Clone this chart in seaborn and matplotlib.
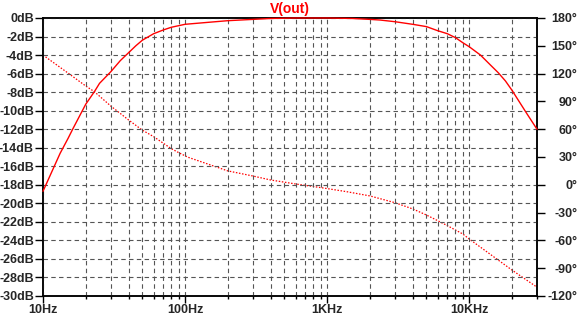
import matplotlib
matplotlib.use("Agg")
import matplotlib.pyplot as plt
import seaborn as sns
import numpy as np
import pandas as pd
from matplotlib.ticker import FixedLocator, NullFormatter

# ---- data ----
mag_freq = [10, 13.2, 15, 16.3, 20, 23, 25, 30, 35, 40, 45, 50, 60, 70, 80, 100,
            150, 200, 300, 400, 600, 1000, 1500, 2000, 2360, 3000, 4000, 5000,
            6000, 7000, 8000, 9000, 10000, 12000, 14100, 16000, 18000, 20000,
            25400, 30000]
mag_db = [-18.7, -14.6, -13.0, -11.9, -9.3, -7.95, -7.05, -5.8, -4.6, -3.75,
          -3.0, -2.4, -1.7, -1.3, -1.0, -0.68, -0.45, -0.29, -0.15, -0.05, 0.0,
          0.0, -0.05, -0.15, -0.22, -0.4, -0.68, -0.93, -1.37, -1.69, -2.12,
          -2.66, -3.1, -4.0, -5.07, -5.9, -6.8, -7.8, -10.3, -12.0]

ph_freq = [10, 15, 20, 23, 30, 40, 50, 60, 80, 92, 105, 200, 300, 400, 600, 910,
           1370, 2000, 3000, 4000, 5000, 6000, 7000, 8000, 9000, 10000, 20000, 30000]
ph_deg = [140, 120.6, 106.6, 100.5, 85, 70, 59, 52, 39, 34, 29.7, 15, 9.5, 5.2,
          0.9, -3.1, -7.4, -12, -19.3, -26, -32.6, -38.7, -44, -48.8, -53, -58.5,
          -92, -110.5]

x_major = [10, 100, 1000, 10000]
x_major_labels = ["10Hz", "100Hz", "1KHz", "10KHz"]
db_ticks = list(range(0, -31, -2))
db_labels = [f"{v}dB" for v in db_ticks]
deg_ticks = list(range(180, -121, -30))
deg_labels = [f"{v}°" for v in deg_ticks]
title = "V(out)"

# ---- style ----
sns.set_theme(style="white")
plt.rcParams["font.family"] = ["Liberation Sans", "DejaVu Sans"]
plt.rcParams["font.weight"] = "bold"
plt.rcParams["font.size"] = 9
plt.rcParams["axes.unicode_minus"] = False

W, H = 579, 317
fig = plt.figure(figsize=(W / 100, H / 100), dpi=100)
L, R, T, B = 43, 537, 18, 296
ax = fig.add_axes([L / W, 1 - B / H, (R - L) / W, (B - T) / H])
ax2 = ax.twinx()

mag_df = pd.DataFrame({"f": mag_freq, "db": mag_db})
ph_df = pd.DataFrame({"f": ph_freq, "deg": ph_deg})

sns.lineplot(data=mag_df, x="f", y="db", ax=ax, color="#ff0000", lw=1.0,
             estimator=None, sort=False, clip_on=False, zorder=5)
sns.lineplot(data=ph_df, x="f", y="deg", ax=ax2, color="#ff0000", lw=0.9,
             estimator=None, sort=False, linestyle=(0, (1.2, 1.3)), zorder=5)

ax.set_xscale("log")
ax.set_xlim(10, 30000)
ax.set_ylim(-30, 0)
ax2.set_ylim(-120, 180)

minor = [m * d for d in [10, 100, 1000, 10000] for m in range(2, 10) if m * d <= 30000]
ax.xaxis.set_major_locator(FixedLocator(x_major))
ax.set_xticklabels(x_major_labels)
ax.xaxis.set_minor_locator(FixedLocator(minor))
ax.xaxis.set_minor_formatter(NullFormatter())
ax.set_yticks(db_ticks)
ax.set_yticklabels(db_labels)
ax2.set_yticks(deg_ticks)
ax2.set_yticklabels(deg_labels)

grid_kw = dict(color="#555555", linestyle=(0, (4, 3)), linewidth=0.8)
ax.grid(True, which="both", axis="x", **grid_kw)
ax.grid(True, which="major", axis="y", **grid_kw)
ax2.grid(False)

ax.tick_params(axis="x", which="major", length=5, width=1, color="black",
               pad=1, labelsize=9, direction="out", bottom=True)
ax.tick_params(axis="x", which="minor", length=2.5, width=1, color="black",
               direction="out", bottom=True)
ax.tick_params(axis="y", length=6, width=1, color="black", pad=0.5,
               labelsize=9, direction="out", left=True)
ax2.tick_params(axis="y", length=6, width=1, color="black", pad=23,
                labelsize=9, direction="out", right=True)
for lab in ax2.get_yticklabels():
    lab.set_horizontalalignment("right")

for a in (ax, ax2):
    for s in a.spines.values():
        s.set_color("black")
        s.set_linewidth(1.1)
ax.set_xlabel("")
ax.set_ylabel("")
ax2.set_ylabel("")
ax.set_zorder(ax2.get_zorder() + 1)
ax.patch.set_visible(False)
if ax.get_legend():
    ax.get_legend().remove()

fig.text(290 / W, 1 - 9 / H, title, color="#ff0000", fontsize=10,
         fontweight="bold", ha="center", va="center")

fig.savefig("out.png", dpi=100)
